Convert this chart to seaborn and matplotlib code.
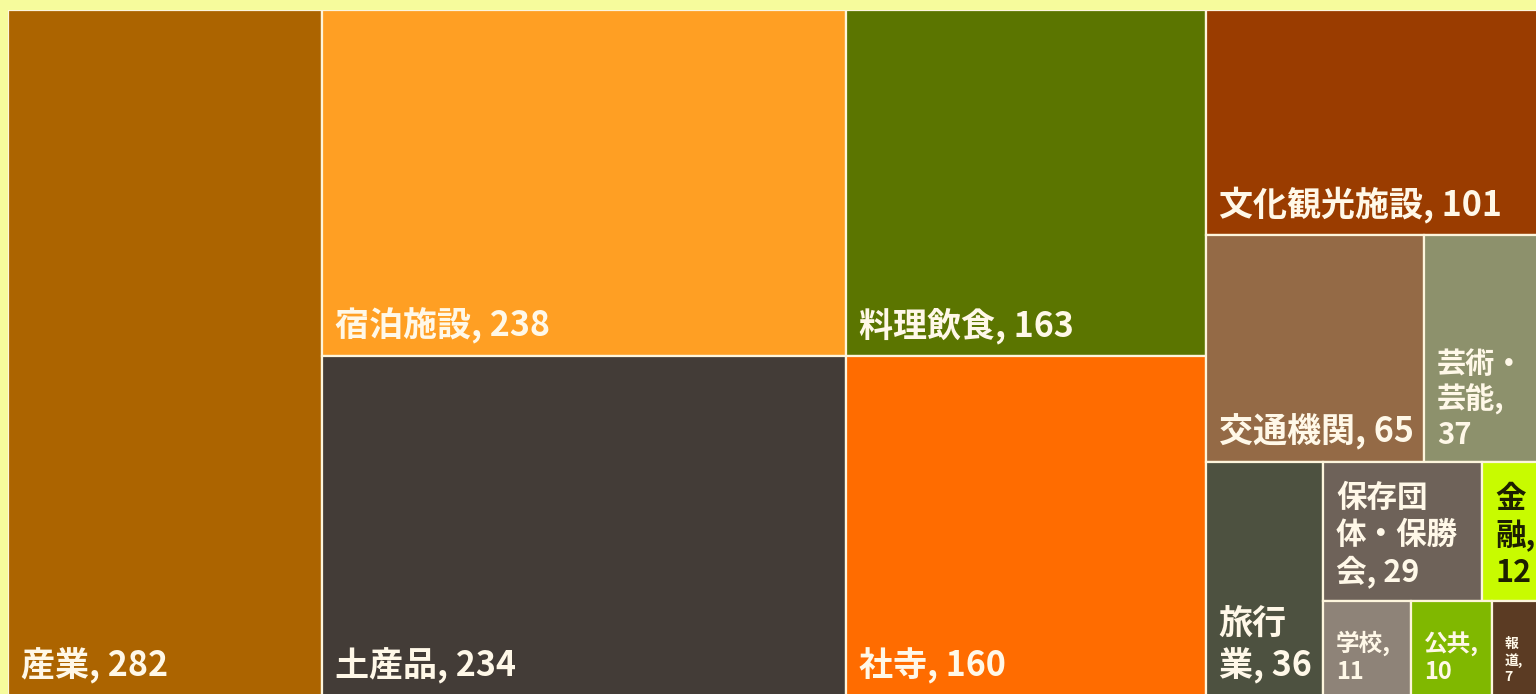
import matplotlib
matplotlib.use("Agg")
import matplotlib.pyplot as plt
import seaborn as sns
from matplotlib.patches import Rectangle

# Data (sorted descending, as in the treemap)
names = ["産業", "宿泊施設", "土産品", "料理飲食", "社寺", "文化観光施設", "交通機関",
         "芸術・芸能", "旅行業", "保存団体・保勝会", "金融", "学校", "公共", "報道"]
values = [282, 238, 234, 163, 160, 101, 65, 37, 36, 29, 12, 11, 10, 7]
colors = ["#ac6400", "#ff9f23", "#433c37", "#5b7500", "#ff6c00", "#9a3c00", "#946a46",
          "#8d916c", "#4d5140", "#6e6259", "#c8fb00", "#8e8378", "#80b800", "#5b3b23"]

# Excel-style wrapping of the labels in narrow boxes
label_formats = {
    "芸術・芸能": "芸術・\n芸能,\n{v}",
    "旅行業": "旅行\n業, {v}",
    "保存団体・保勝会": "保存団\n体・保勝\n会, {v}",
    "金融": "金\n融,\n{v}",
    "学校": "学校,\n{v}",
    "公共": "公共,\n{v}",
    "報道": "報\n道,\n{v}",
}
font_sizes = {"芸術・芸能": 21, "保存団体・保勝会": 22, "金融": 22,
              "学校": 17, "公共": 17, "報道": 10}
dark_text = {"金融"}

# number of items per strip (Excel's squarified grouping)
STRIP_SIZES = [1, 2, 2, 1, 2, 1, 2, 1, 1, 1]

BG = "#f6fb9c"
W, H = 1540, 686


def strip_layout(vals, x, y, w, h, strip_sizes):
    """Lay out values in strips along the shorter side of the remaining area."""
    scale = w * h / sum(vals)
    rects = []
    i = 0
    for n in strip_sizes:
        chunk = vals[i:i + n]
        area = sum(chunk) * scale
        if w >= h:
            cw = area / h
            yy = y
            for v in chunk:
                rh = v * scale / cw
                rects.append((x, yy, cw, rh))
                yy += rh
            x += cw
            w -= cw
        else:
            rh = area / w
            xx = x
            for v in chunk:
                rw = v * scale / rh
                rects.append((xx, y, rw, rh))
                xx += rw
            y += rh
            h -= rh
        i += n
    return rects


sns.set_theme(style="white")
plt.rcParams['font.family'] = ['Noto Sans CJK JP', 'DejaVu Sans']

fig = plt.figure(figsize=(15.36, 6.94), dpi=100)
fig.patch.set_facecolor(BG)
ax = fig.add_axes([8 / 1536, (694 - 696) / 694, W / 1536, H / 694])
ax.set_xlim(0, W)
ax.set_ylim(H, 0)
ax.axis("off")

rects = strip_layout(values, 0, 0, W, H, STRIP_SIZES)

for name, v, c, (x, y, w, h) in zip(names, values, colors, rects):
    ax.add_patch(Rectangle((x, y), w, h, facecolor=c, edgecolor="#fdf5dc", linewidth=1.6))
    label = label_formats.get(name, "{n}, {v}").format(n=name, v=v)
    ax.text(x + 13, y + h - 12, label, ha="left", va="bottom",
            fontsize=font_sizes.get(name, 24.5), fontweight="bold",
            color="#1c1f00" if name in dark_text else "#fff8e8",
            linespacing=1.2)

fig.savefig("out.png", dpi=100, facecolor=BG)
